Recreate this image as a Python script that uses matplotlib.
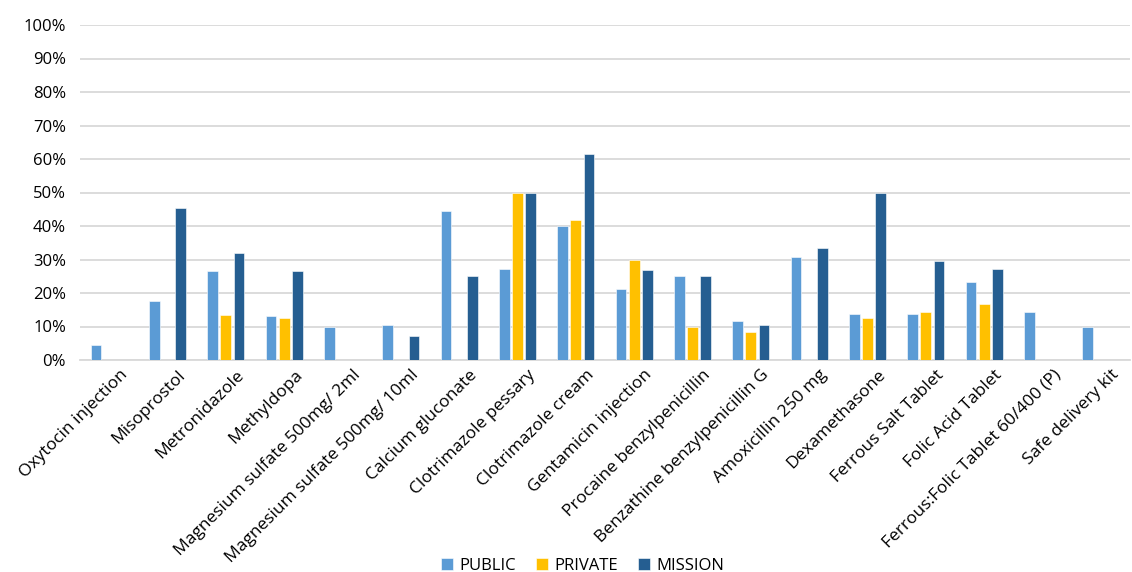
import matplotlib
matplotlib.use("Agg")
import matplotlib.pyplot as plt
import matplotlib.transforms as mtransforms
import numpy as np
from matplotlib.ticker import PercentFormatter

plt.rcParams['font.family'] = ['Open Sans', 'DejaVu Sans']

categories = ["Oxytocin injection", "Misoprostol", "Metronidazole", "Methyldopa",
              "Magnesium sulfate 500mg/ 2ml", "Magnesium sulfate 500mg/ 10ml",
              "Calcium gluconate", "Clotrimazole pessary", "Clotrimazole cream",
              "Gentamicin injection", "Procaine benzylpenicillin",
              "Benzathine benzylpenicillin G", "Amoxicillin 250 mg", "Dexamethasone",
              "Ferrous Salt Tablet", "Folic Acid Tablet", "Ferrous:Folic Tablet 60/400 (P)",
              "Safe delivery kit"]
public = [4.5, 17.6, 26.7, 13.0, 10.0, 10.5, 44.4, 27.3, 40.0, 21.3, 25.0, 11.7, 30.6, 13.8, 13.8, 23.4, 14.3, 10.0]
private = [0, 0, 13.3, 12.5, 0, 0, 0, 50.0, 41.7, 30.0, 10.0, 8.3, 0, 12.5, 14.3, 16.7, 0, 0]
mission = [0, 45.5, 32.0, 26.7, 0, 7.1, 25.0, 50.0, 61.5, 26.9, 25.0, 10.3, 33.3, 50.0, 29.6, 27.3, 0, 0]

series = [("PUBLIC", public, "#5B9BD5"), ("PRIVATE", private, "#FFC000"), ("MISSION", mission, "#255E91")]

fig = plt.figure(figsize=(11.32, 5.72), dpi=100)
ax = fig.add_axes([80/1132, 212/572, 1050/1132, 335/572])

x = np.arange(len(categories))
w = 0.185
offs = [-0.225, 0, 0.225]
for (name, vals, col), o in zip(series, offs):
    ax.bar(x + o, vals, width=w, color=col, label=name, edgecolor="white", linewidth=0.4, zorder=3)

ax.set_xlim(-0.5, len(categories) - 0.5)
ax.set_ylim(0, 100)
ax.set_yticks(np.arange(0, 101, 10))
ax.yaxis.set_major_formatter(PercentFormatter(decimals=0))
ax.grid(axis='y', color="#D9D9D9", linewidth=1.3, zorder=0)
for s in ["top", "right", "left"]:
    ax.spines[s].set_visible(False)
ax.spines["bottom"].set_color("#D9D9D9")
ax.spines["bottom"].set_linewidth(1.3)
ax.tick_params(axis='y', length=0, labelsize=12, colors="#000000", pad=10)
ax.tick_params(axis='x', length=0, labelsize=12.5, colors="#000000", pad=5)
ax.set_xticks(x)
ax.set_xticklabels(categories, rotation=45, ha="right", rotation_mode="anchor")
offset = mtransforms.ScaledTranslation(10/100, 0, fig.dpi_scale_trans)
for lab in ax.get_xticklabels():
    lab.set_transform(lab.get_transform() + offset)

fig.legend(loc="lower center", ncol=3, frameon=False, fontsize=12, bbox_to_anchor=(0.515, -0.03),
           handlelength=0.7, handleheight=0.7, columnspacing=1.2, handletextpad=0.4)

fig.savefig("out.png", dpi=100)
